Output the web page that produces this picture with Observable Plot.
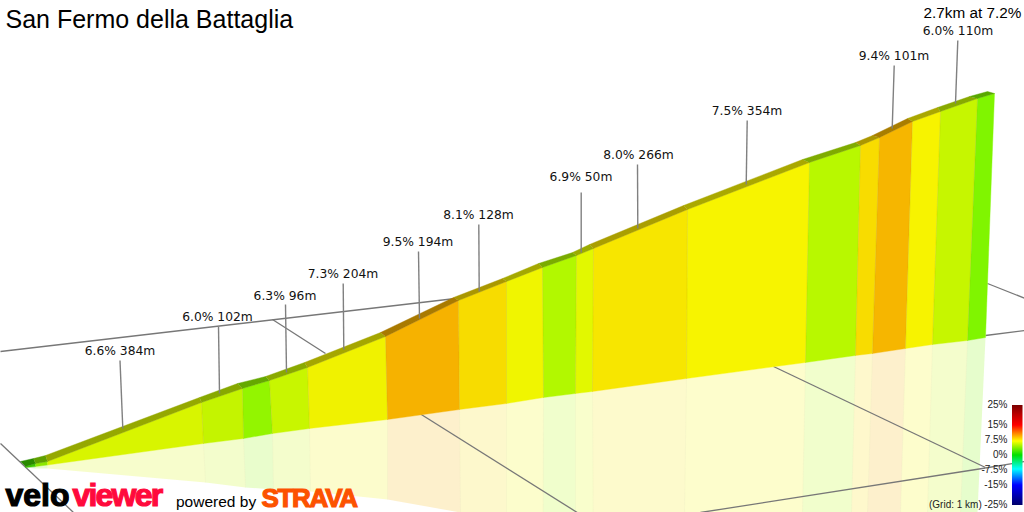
<!DOCTYPE html>
<html><head><meta charset="utf-8">
<style>
html,body{margin:0;padding:0;background:#fff;}
.velo text{letter-spacing:0px;stroke:#000;stroke-width:1.2px;}
.viewer text{letter-spacing:-1.8px;stroke:#ff0a3c;stroke-width:1.2px;}
.strava text{letter-spacing:-1.3px;stroke:#fc5200;stroke-width:1.2px;}
</style>
<script src="https://cdn.jsdelivr.net/npm/d3@7"></script>
<script src="https://cdn.jsdelivr.net/npm/@observablehq/plot@0.6"></script>
</head><body>
<script>
const wallTopX = [25,35,47,201,242,269,307,385,458,506,542,576,593,687,809,860,879,912,940,977,994];
const wallTopY = [466,463,461,402,388,380,367,336,300,281,267,255,248,209,162,145,137,121,111,98,93];
const wallBotX = [25,35,47,203,243,272,309,387,459,506,543,575,592,686,805,855,872,905,932,967,985];
const wallBotY = [467,466,464.5,443,438,433,428,419,409,403,397,393,391,378,362,355,353,348,344,340,337];
const ridgeX = [20,33,45,199,237,265,304,380,453,502,538,572,589,683,802,855,872,907,937,969,987];
const ridgeY = [461,458,455,397,383,376,362,332,297,278,263,252,244,205,159,142,135,118,107,96,91];
const mirrorX = [25,35,47,205,245,273,310,387,460,506,542.7,575,592.7,684,802,851,867,900,927,960,977];
const mirrorY = [467,468,468,482,487,489,491,499,512,512,512,512,512,512,512,512,512,512,512,512,512];
const segColors = ["#3cc800","#8ce800","#d8f500","#c4f400","#93f500","#c8f600","#f0f200","#f6b200","#f7dc00","#f0f500","#b2f800","#e2f800","#f7e600","#f7f400","#b8f800","#f8dc00","#f6b600","#f7f300","#c6f600","#80f500"];

const calloutText = ["6.6% 384m","6.0% 102m","6.3% 96m","7.3% 204m","9.5% 194m","8.1% 128m","6.9% 50m","8.0% 266m","7.5% 354m","9.4% 101m","6.0% 110m"];
const calloutX1 = [119.5,218,285,342.7,418,478.3,580.7,637,746.7,893.7,957.3];
const calloutY1 = [360,326,304,283,251,224,192,164,120,65,40];
const calloutX2 = [122.3,219,286,343.3,419,478.7,580.7,637.3,745.7,891.7,955];
const calloutY2 = [428,393,372,349,318,291,252,228,184,128,103];
const calloutLabelY = [354,320,299,277,245,218,180,158,114,59,34];
const calloutLabelX = [119.5,217,284.5,342.5,417.5,478,580.5,638,746.5,893.5,957.5];

const gridX1 = [0,0,985,987,272,420,773,700,985];
const gridY1 = [351,443,335,283,319,413.5,366,512,467.5];
const gridX2 = [455,73,1024,1024,325,576.7,985,985,1024];
const gridY2 = [298,512,330,297.7,353,512,467,467.5,461];

const legendLabels = ["25%","15%","7.5%","0%","-7.5%","-15%","-25%"];
const legendBase = [407,427.7,442.7,457.7,472.7,487.7,507.3];
const legendStops = [[0,"#7a0000"],[0.1,"#c00000"],[0.2,"#ff0000"],[0.28,"#ff8000"],[0.36,"#ffff00"],[0.5,"#00e000"],[0.64,"#00ffff"],[0.8,"#0000ff"],[1,"#00006a"]];

const idx = d3.range(segColors.length);
const poly = (xa,ya,xb,yb) => idx.flatMap(i => [
  {z:i,c:segColors[i],px:xa[i],py:ya[i]},
  {z:i,c:segColors[i],px:xa[i+1],py:ya[i+1]},
  {z:i,c:segColors[i],px:xb[i+1],py:yb[i+1]},
  {z:i,c:segColors[i],px:xb[i],py:yb[i]}
]);
const wall = poly(wallTopX,wallTopY,wallBotX,wallBotY);
const ridge = poly(ridgeX,ridgeY,wallTopX,wallTopY).map(d => ({...d,c:d3.rgb(d.c).darker(1.05).formatHex()}));
const mirror = poly(wallBotX,wallBotY,mirrorX,mirrorY);
const seams = d3.range(3,wallTopX.length-1);
const grid = gridX1.map((_,i)=>i);
const callouts = calloutText.map((_,i)=>i);

const t = (txt,x,y,o) => Plot.text([txt],{x:()=>x,y:()=>y,text:d=>d,lineAnchor:"bottom",textAnchor:"start",...o});
const sans = "Liberation Sans";

const plot = Plot.plot({
  width:1024,height:512,margin:0,
  x:{domain:[0,1024],range:[0,1024],axis:null},
  y:{domain:[0,512],range:[0,512],axis:null},
  color:{type:"identity"},
  marks:[
    Plot.line(mirror,{x:"px",y:"py",z:"z",fill:"c",fillOpacity:0.2,stroke:"none"}),
    Plot.link(seams,{x1:i=>wallBotX[i],y1:i=>wallBotY[i],x2:i=>mirrorX[i],y2:i=>mirrorY[i],stroke:"#e8e8b8",strokeWidth:1,strokeOpacity:0.25}),
    Plot.link(grid,{x1:i=>gridX1[i],y1:i=>gridY1[i],x2:i=>gridX2[i],y2:i=>gridY2[i],stroke:"#777",strokeWidth:1.3}),
    Plot.line(wall,{x:"px",y:"py",z:"z",fill:"c",stroke:"c",strokeWidth:0.4}),
    Plot.link(seams,{x1:i=>wallTopX[i],y1:i=>wallTopY[i],x2:i=>wallBotX[i],y2:i=>wallBotY[i],stroke:"#a09000",strokeWidth:1,strokeOpacity:0.18}),
    Plot.line(ridge,{x:"px",y:"py",z:"z",fill:"c",stroke:"c",strokeWidth:0.4}),
    Plot.link(callouts,{x1:i=>calloutX1[i],y1:i=>calloutY1[i],x2:i=>calloutX2[i],y2:i=>calloutY2[i],stroke:"#808080",strokeWidth:1.4}),
    Plot.text(callouts,{x:i=>calloutLabelX[i],y:i=>calloutLabelY[i],text:i=>calloutText[i],lineAnchor:"bottom",textAnchor:"middle",fontFamily:"DejaVu Sans",fontSize:12.3,fill:"#111"}),
    t("San Fermo della Battaglia",5,27.5,{fontFamily:sans,fontSize:25,fill:"#000"}),
    t("2.7km at 7.2%",923,17.5,{fontFamily:sans,fontSize:15.3,fill:"#000"}),
    Plot.text(legendLabels,{x:()=>1007,y:(_,i)=>legendBase[i],text:d=>d,lineAnchor:"bottom",textAnchor:"end",fontFamily:sans,fontSize:10,fill:"#222"}),
    t("(Grid: 1 km)",928.5,507.3,{fontFamily:sans,fontSize:10,fill:"#222"}),
    Plot.rect([0],{x1:()=>1012,x2:()=>1022.5,y1:()=>405,y2:()=>505,fill:"url(#bar)"}),
    t("velo",5,505,{fontFamily:sans,fontSize:32,fontWeight:"bold",fill:"#000",className:"velo"}),
    t("viewer",72,505,{fontFamily:sans,fontSize:32,fontWeight:"bold",fill:"#ff0a3c",className:"viewer"}),
    t("powered by",175.5,506,{fontFamily:sans,fontSize:15.5,fill:"#000"}),
    t("STRAVA",261,506.3,{fontFamily:sans,fontSize:26,fontWeight:"bold",fill:"#fc5200",className:"strava"})
  ]
});
const defs = d3.select(plot).insert("defs",":first-child");
const g = defs.append("linearGradient").attr("id","bar").attr("x1",0).attr("y1",0).attr("x2",0).attr("y2",1);
legendStops.forEach(s => g.append("stop").attr("offset",s[0]).attr("stop-color",s[1]));
document.body.appendChild(plot);
</script>
</body></html>
